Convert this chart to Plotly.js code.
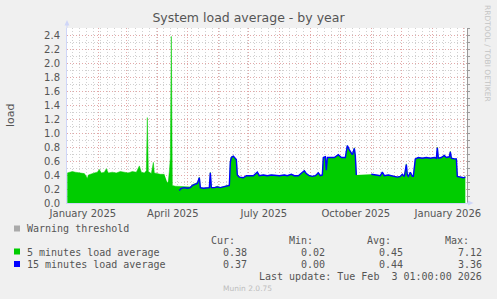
<!DOCTYPE html>
<html><head><meta charset="utf-8">
<script src="https://cdn.plot.ly/plotly-3.0.1.min.js"></script>
<style>html,body{margin:0;padding:0;background:#f0f0f0;}#chart{width:497px;height:299px;}</style>
</head><body><div id="chart"></div>
<script>
// ---- data (daily averages) ----
const dates = [
 '2025-01-01','2025-01-03','2025-01-06','2025-01-09','2025-01-12','2025-01-15','2025-01-18','2025-01-20','2025-01-21','2025-01-22',
 '2025-01-25','2025-01-28','2025-01-31','2025-02-02','2025-02-04','2025-02-07','2025-02-09','2025-02-11','2025-02-15','2025-02-19',
 '2025-02-23','2025-02-27','2025-03-03','2025-03-07','2025-03-11','2025-03-14','2025-03-16','2025-03-19','2025-03-21','2025-03-22',
 '2025-03-23','2025-03-26','2025-03-28','2025-03-29','2025-04-01','2025-04-04','2025-04-08','2025-04-10',
 '2025-04-11','2025-04-12','2025-04-13','2025-04-14','2025-04-15','2025-04-16','2025-04-19','2025-04-22','2025-04-23','2025-04-25',
 '2025-04-28','2025-05-01','2025-05-04','2025-05-06','2025-05-09','2025-05-11','2025-05-13','2025-05-14','2025-05-17','2025-05-20',
 '2025-05-23','2025-05-24','2025-05-25','2025-05-28','2025-05-31','2025-06-03','2025-06-06','2025-06-09','2025-06-12','2025-06-13',
 '2025-06-14','2025-06-16','2025-06-18','2025-06-19','2025-06-20','2025-06-22','2025-06-26','2025-06-29','2025-07-02','2025-07-06',
 '2025-07-10','2025-07-12','2025-07-16','2025-07-20','2025-07-24','2025-07-28','2025-08-01','2025-08-06','2025-08-09','2025-08-13',
 '2025-08-16','2025-08-20','2025-08-24','2025-08-26','2025-08-28','2025-08-31','2025-09-03','2025-09-06','2025-09-09','2025-09-11',
 '2025-09-13','2025-09-14','2025-09-16','2025-09-17','2025-09-18','2025-09-21','2025-09-25','2025-09-29','2025-10-02','2025-10-06',
 '2025-10-08','2025-10-10','2025-10-11','2025-10-13','2025-10-15','2025-10-16','2025-10-17','2025-10-24',
 '2025-11-01','2025-11-04','2025-11-07','2025-11-10','2025-11-12','2025-11-14','2025-11-18','2025-11-21','2025-11-24','2025-11-27',
 '2025-11-30','2025-12-02','2025-12-04','2025-12-06','2025-12-07','2025-12-08','2025-12-10','2025-12-12','2025-12-13','2025-12-15',
 '2025-12-18','2025-12-22','2025-12-26','2025-12-30','2026-01-03','2026-01-05','2026-01-06','2026-01-07','2026-01-10','2026-01-13',
 '2026-01-15','2026-01-18','2026-01-19','2026-01-20','2026-01-23','2026-01-25','2026-01-26','2026-01-29','2026-02-01','2026-02-03'
];
const load5 = [
 0.43,0.44,0.45,0.44,0.43,0.43,0.42,0.38,0.35,0.40,
 0.42,0.43,0.44,0.48,0.43,0.44,0.49,0.43,0.44,0.43,
 0.45,0.44,0.43,0.45,0.44,0.53,0.44,0.43,0.46,1.22,
 0.45,0.42,0.58,0.43,0.42,0.41,0.41,null,
 0.29,0.31,0.45,0.64,2.38,0.25,0.24,0.24,0.24,0.24,
 0.23,0.24,0.23,0.26,0.28,0.29,0.37,0.22,0.21,0.21,
 0.22,0.44,0.22,0.22,0.24,0.22,0.23,0.24,0.26,0.60,
 0.66,0.67,0.63,0.62,0.40,0.37,0.36,0.39,0.39,0.39,
 0.44,0.39,0.40,0.39,0.40,0.39,0.39,0.40,0.39,0.41,
 0.39,0.39,0.44,0.46,0.42,0.39,0.38,0.39,0.43,0.39,
 0.40,0.65,0.66,0.47,0.65,0.65,0.65,0.69,0.65,0.65,
 0.82,0.76,0.73,0.69,0.79,0.67,0.40,null,
 0.41,0.40,0.39,0.39,0.44,0.39,0.40,0.39,0.38,0.37,
 0.38,0.41,0.38,0.56,0.40,0.38,0.44,0.38,0.38,0.63,
 0.65,0.64,0.65,0.64,0.65,0.64,0.80,0.64,0.65,0.68,
 0.65,0.66,0.74,0.64,0.63,0.63,0.38,0.37,0.36,0.38
];
const load15 = [
 null,null,null,null,null,null,null,null,null,null,
 null,null,null,null,null,null,null,null,null,null,
 null,null,null,null,null,null,null,null,null,null,
 null,null,null,null,null,null,null,null,
 null,null,null,null,null,null,null,null,0.18,0.21,
 0.22,0.21,0.22,0.25,0.27,0.28,0.36,0.22,0.21,0.21,
 0.22,0.43,0.22,0.22,0.23,0.22,0.23,0.23,0.25,0.58,
 0.65,0.67,0.63,0.62,0.40,0.37,0.36,0.39,0.39,0.39,
 0.44,0.39,0.40,0.39,0.40,0.39,0.39,0.40,0.39,0.41,
 0.39,0.39,0.44,0.46,0.42,0.39,0.38,0.39,0.43,0.39,
 0.40,0.65,0.66,0.47,0.65,0.65,0.65,0.69,0.65,0.65,
 0.82,0.76,0.73,0.69,0.78,0.67,0.40,null,
 0.41,0.40,0.39,0.39,0.44,0.39,0.40,0.39,0.38,0.37,
 0.38,0.41,0.38,0.55,0.40,0.38,0.44,0.38,0.38,0.63,
 0.65,0.64,0.65,0.64,0.65,0.64,0.79,0.64,0.65,0.68,
 0.65,0.66,0.73,0.64,0.63,0.63,0.38,0.37,0.36,0.37
];
const labelDates = ['2025-01-16 12:00','2025-04-16 12:00','2025-07-16 12:00','2025-10-16 12:00','2026-01-16 12:00'];
const labelTexts = ['January 2025','April 2025','July 2025','October 2025','January 2026'];
const legendNames = ['Warning threshold','5 minutes load average','15 minutes load average'];
const legendColors = ['#aaaaaa','#00cc00','#0000ff'];
const statHeads = ['Cur:','Min:','Avg:','Max:'];
const stats5 = ['0.38','0.02','0.45','7.12'];
const stats15 = ['0.37','0.00','0.44','3.36'];
const lastUpdate = 'Last update: Tue Feb\u00a0\u00a03 01:00:00 2026';

// ---- geometry ----
const W = 497, H = 299, L = 67, R = 467, T = 28, B = 203;
const px = x => (x - L) / (R - L);
const py = y => (B - y) / (B - T);
const FONT = 'DejaVu Sans', MONO = 'DejaVu Sans Mono', TXT = '#555555';
const AXIS = '#cfd6f8', MGRID = '#e2a8a8', GRID = '#d0d0d0';
const DASH = '1px,2px';

const traces = [
  {x: dates, y: load5, type: 'scatter', mode: 'lines', fill: 'tozeroy',
   fillcolor: '#00cc00', line: {color: '#00cc00', width: 0.5}, xaxis: 'x', yaxis: 'y', hoverinfo: 'skip'},
  {x: dates, y: load15, type: 'scatter', mode: 'lines',
   line: {color: '#0000ff', width: 1.4}, xaxis: 'x2', yaxis: 'y2', hoverinfo: 'skip'}
];

const ann = [];
const mk = (text, x, y, opts) => Object.assign({text, x: px(x), y: py(y), xref: 'paper', yref: 'paper',
  showarrow: false, xanchor: 'left', yanchor: 'middle', font: {family: MONO, size: 10, color: TXT}}, opts || {});
ann.push(mk('load', 10, 115, {xanchor: 'center', textangle: -90, font: {family: FONT, size: 11, color: TXT}}));
ann.push(mk('RRDTOOL / TOBI OETIKER', 488, 53, {xanchor: 'center', textangle: 90, font: {family: FONT, size: 7.5, color: '#c4c4c4'}}));
ann.push(mk('Munin 2.0.75', 247, 288, {xanchor: 'center', font: {family: FONT, size: 7.5, color: '#bdbdbd'}}));
const rowY = [228, 252, 264];
legendNames.forEach((n, i) => ann.push(mk(n, 25, rowY[i])));
const headRight = [237, 315, 393, 471];
const valRight = [249, 327, 405, 484];
statHeads.forEach((h, i) => ann.push(mk(h, headRight[i], 240, {xanchor: 'right'})));
stats5.forEach((v, i) => ann.push(mk(v, valRight[i], 252, {xanchor: 'right'})));
stats15.forEach((v, i) => ann.push(mk(v, valRight[i], 264, {xanchor: 'right'})));
ann.push(mk(lastUpdate, 484, 276, {xanchor: 'right'}));

const shapes = [];
const sqY = [228.5, 251.5, 264];
legendColors.forEach((c, i) => shapes.push({type: 'rect', xref: 'paper', yref: 'paper',
  x0: px(14), x1: px(20), y0: py(sqY[i] + 3), y1: py(sqY[i] - 3), fillcolor: c, line: {width: 0}}));
// axis arrows
shapes.push({type: 'line', xref: 'paper', yref: 'paper', x0: 0, x1: 0, y0: 1, y1: py(23), line: {color: AXIS, width: 1}});
shapes.push({type: 'path', xref: 'paper', yref: 'paper', fillcolor: AXIS, line: {width: 0},
  path: `M${px(64.5)},${py(25.5)} L${px(69.5)},${py(25.5)} L${px(67)},${py(20)} Z`});
shapes.push({type: 'line', xref: 'paper', yref: 'paper', x0: 1, x1: px(470), y0: 0, y1: 0, line: {color: AXIS, width: 1}});
shapes.push({type: 'path', xref: 'paper', yref: 'paper', fillcolor: AXIS, line: {width: 0},
  path: `M${px(468)},${py(200.5)} L${px(468)},${py(205.5)} L${px(473.5)},${py(203)} Z`});

const layout = {
  width: W, height: H, margin: {l: L, r: W - R, t: T, b: H - B},
  paper_bgcolor: '#f0f0f0', plot_bgcolor: '#ffffff', showlegend: false,
  font: {family: FONT, size: 10, color: TXT},
  title: {text: 'System load average - by year', x: 0.5, xanchor: 'center', y: 1 - 18 / H, yanchor: 'middle',
          font: {family: FONT, size: 12.5, color: TXT}},
  xaxis: {type: 'date', range: ['2024-12-31 16:00', '2026-02-04 16:00'], tick0: '2025-01-01', dtick: 'M1',
          showticklabels: false, ticks: '', showgrid: true, gridcolor: MGRID, griddash: DASH, gridwidth: 1,
          minor: {tick0: '2025-01-06', dtick: 7 * 86400000, showgrid: true, gridcolor: GRID, griddash: DASH, gridwidth: 1},
          showline: true, linecolor: AXIS, linewidth: 1, zeroline: false, fixedrange: true},
  xaxis2: {type: 'date', overlaying: 'x', matches: 'x', side: 'bottom', tickmode: 'array', tickvals: labelDates, ticktext: labelTexts,
           ticks: 'outside', ticklen: 1, tickcolor: 'rgba(0,0,0,0)', showgrid: false, showline: false, zeroline: false,
           tickfont: {family: FONT, size: 10, color: TXT}},
  yaxis: {range: [0, 2.5], tick0: 0, dtick: 0.2, tickformat: '.1f', ticks: 'outside', ticklen: 4, tickcolor: 'rgba(0,0,0,0)',
          tickfont: {family: FONT, size: 10, color: TXT},
          showgrid: true, gridcolor: MGRID, griddash: DASH, gridwidth: 1,
          minor: {tick0: 0, dtick: 0.1, showgrid: true, gridcolor: GRID, griddash: DASH, gridwidth: 1},
          showline: true, linecolor: AXIS, linewidth: 1, zeroline: false, fixedrange: true},
  yaxis2: {overlaying: 'y', matches: 'y', side: 'right', tickmode: 'linear', tick0: 0, dtick: 0.1,
           showticklabels: false, ticks: 'outside', ticklen: 2, tickcolor: '#9a9a9a',
           showline: true, linecolor: '#9a9a9a', linewidth: 1, showgrid: false, zeroline: false},
  annotations: ann, shapes: shapes
};
Plotly.newPlot('chart', traces, layout, {displayModeBar: false, staticPlot: true});
</script></body></html>
